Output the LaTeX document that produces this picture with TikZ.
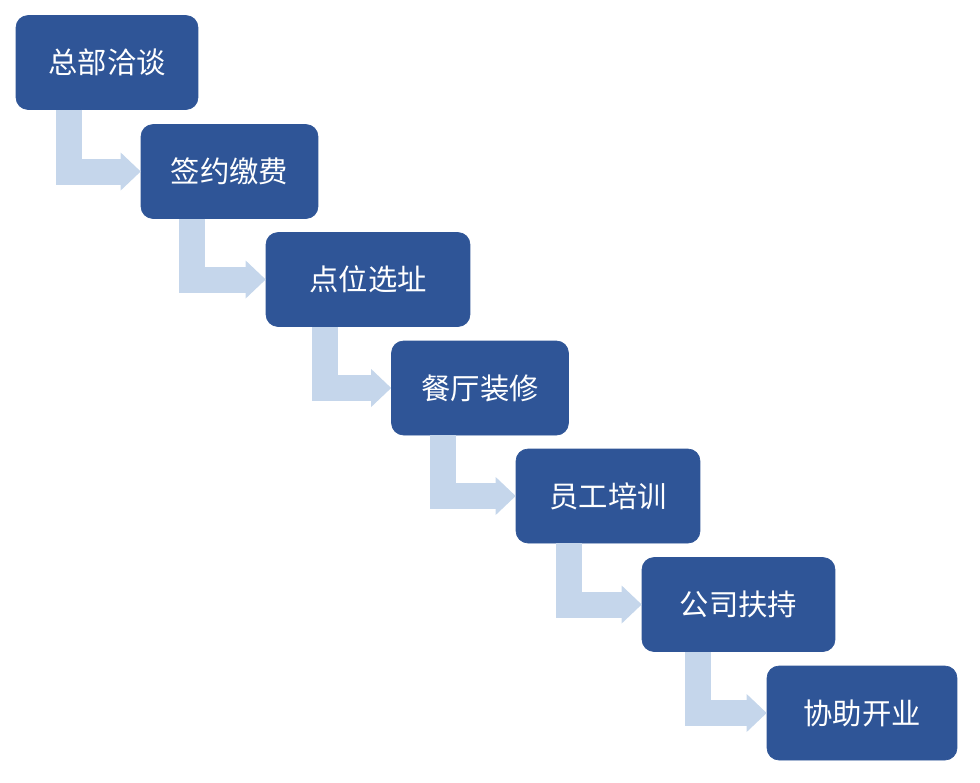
\documentclass[tikz,border=0pt]{standalone}
\usepackage{fontspec}
\newfontfamily\cjk{Noto Sans CJK SC}
\usetikzlibrary{arrows.meta,calc,positioning}
\definecolor{stepblue}{HTML}{2F5597}
\definecolor{flowblue}{HTML}{C5D6EB}

\begin{document}
\begin{tikzpicture}[
  x=0.02cm, y=-0.02cm,
  stepbox/.style={rounded corners=0.24cm, draw=stepblue, fill=stepblue, text=white,
                  minimum height=1.88cm, inner sep=0,
                  font=\cjk\fontsize{16.7}{20}\selectfont},
  flow/.style={flowblue, line width=0.52cm, line join=miter,
               -{Triangle[length=0.4cm, width=0.76cm, line width=0pt]}},
]

\useasboundingbox (0,0) rectangle (980,782);

% ---- steps, top left to bottom right ----
\node[stepbox, minimum width=3.64cm] (deal)    at (107, 62.5)   {总部洽谈};
\node[stepbox, minimum width=3.54cm] (sign)    at (229.5, 171.5) {签约缴费};
\node[stepbox, minimum width=4.08cm] (site)    at (368, 279.5)  {点位选址};
\node[stepbox, minimum width=3.54cm] (decor)   at (480, 388)    {餐厅装修};
\node[stepbox, minimum width=3.68cm] (train)   at (608, 496)    {员工培训};
\node[stepbox, minimum width=3.86cm] (support) at (738.5, 604.5) {公司扶持};
\node[stepbox, minimum width=3.80cm] (open)    at (862, 713)    {协助开业};

% ---- bent arrows between steps ----
\foreach \a/\b in {deal/sign, sign/site, site/decor, decor/train, train/support, support/open}{
  \draw[flow] ($(\a.south west)!0.29!(\a.south east)$) |- (\b.west);
}

\end{tikzpicture}
\end{document}
